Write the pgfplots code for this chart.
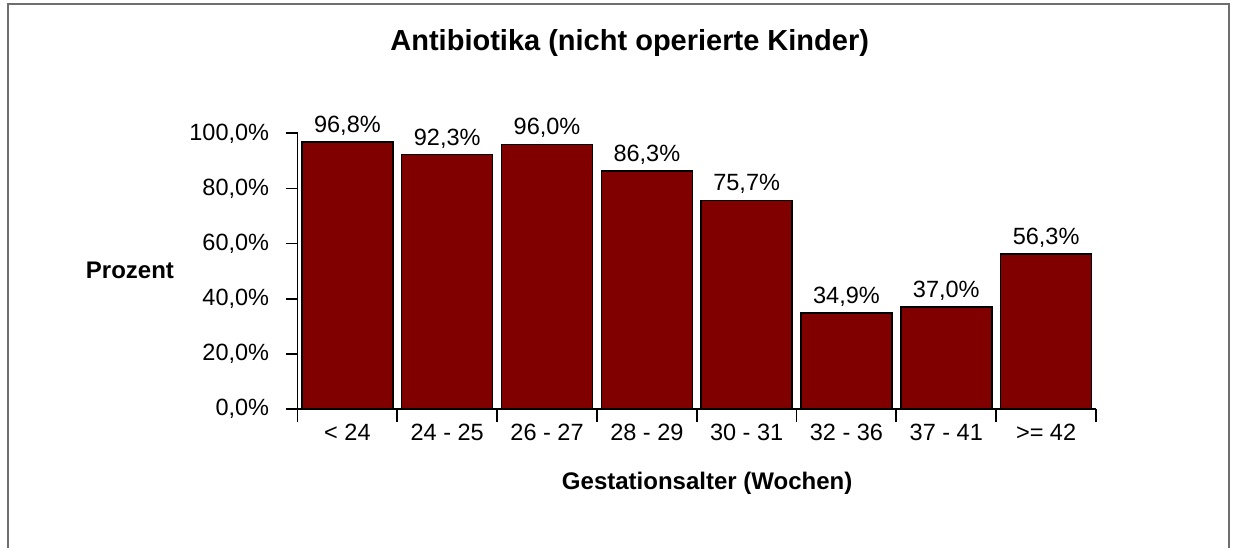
\documentclass[border=0pt]{standalone}
\usepackage{fontspec}
\setmainfont{Liberation Sans}
\usepackage{pgfplots}
\pgfplotsset{compat=1.18}
\definecolor{barred}{RGB}{128,0,0}
\definecolor{framegray}{RGB}{110,110,110}
\begin{document}
\begin{tikzpicture}
\useasboundingbox (0,0) rectangle (618pt,274pt);
\draw[framegray, line width=0.7pt] (4pt,0) -- (4pt,272pt) -- (614.5pt,272pt) -- (614.5pt,0);
\begin{axis}[
    at={(148.75pt,69.5pt)}, anchor=south west,
    scale only axis, width=399.25pt, height=137.85pt,
    xmin=0, xmax=8, ymin=0, ymax=100,
    axis lines*=left,
    axis line style={-, line width=0.9pt},
    tick style={black, line width=0.9pt},
    tick align=outside,
    ytick={0,20,...,100},
    yticklabels={{0,0\%},{20,0\%},{40,0\%},{60,0\%},{80,0\%},{100,0\%}},
    xtick={0.5,1.5,...,7.5},
    xticklabels={< 24, 24 - 25, 26 - 27, 28 - 29, 30 - 31, 32 - 36, 37 - 41, >= 42},
    minor xtick={0,1,...,8},
    major x tick style={draw=none},
    major tick length=6pt,
    minor tick length=6.5pt,
    tick label style={font=\fontsize{11.75}{14}\selectfont},
    xticklabel style={yshift=1.9pt},
    yticklabel style={anchor=east, inner sep=0pt, xshift=-8pt},
    title={Antibiotika (nicht operierte Kinder)},
    title style={at={(axis description cs:0.416,1.33)}, anchor=center, yshift=-6.5pt,
                 font=\fontsize{14.5}{17}\selectfont\bfseries},
    xlabel={Gestationsalter (Wochen)},
    xlabel style={at={(axis description cs:0.513,-0.268)}, anchor=center,
                  font=\fontsize{12}{14}\selectfont\bfseries},
    ylabel={Prozent},
    ylabel style={rotate=-90, at={(axis description cs:-0.2098,0.504)}, anchor=center,
                  font=\fontsize{12}{14}\selectfont\bfseries},
    nodes near coords,
    point meta=explicit symbolic,
    nodes near coords style={font=\fontsize{11.75}{14}\selectfont, anchor=south, yshift=-0.5pt},
]
\addplot[ybar, bar width=45.5pt, fill=barred, draw=black, line width=0.75pt] coordinates {
(0.5,96.8) [96,8\%]
(1.5,92.3) [92,3\%]
(2.5,96.0) [96,0\%]
(3.5,86.3) [86,3\%]
(4.5,75.7) [75,7\%]
(5.5,34.9) [34,9\%]
(6.5,37.0) [37,0\%]
(7.5,56.3) [56,3\%]
};
\end{axis}
\end{tikzpicture}
\end{document}
